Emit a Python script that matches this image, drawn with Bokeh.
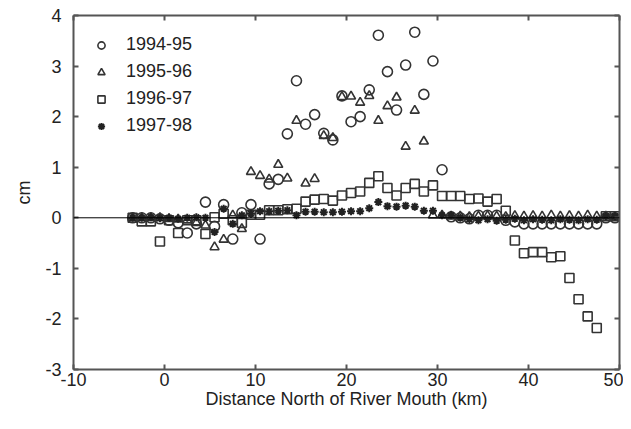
from bokeh.plotting import figure
from bokeh.models import Span, LinearAxis, FixedTicker, Range1d, Legend, LegendItem
from bokeh.embed import file_html
from bokeh.resources import INLINE

# distance north of river mouth (km)
km = [k + 0.5 for k in range(-4, 50)]

c_1994_95 = [0.0, 0.0, 0.0, -0.02, -0.05, -0.10, -0.30, -0.12, 0.31, -0.17,
             0.26, -0.42, 0.10, 0.26, -0.42, 0.67, 0.76, 1.66, 2.71, 1.85,
             2.04, 1.67, 1.54, 2.41, 1.90, 2.00, 2.53, 3.61, 2.89, 2.13,
             3.02, 3.67, 2.44, 3.10, 0.95, 0.02, 0.00, -0.02, 0.05, 0.05,
             0.05, -0.05, -0.08, -0.12, -0.12, -0.12, -0.12, -0.12, -0.12, -0.12,
             -0.12, -0.12, 0.00, 0.00]

c_1995_96 = [0.0, 0.0, 0.0, 0.0, -0.02, -0.03, -0.05, -0.10, -0.15, -0.58,
             -0.43, 0.05, -0.22, 0.91, 0.83, 0.76, 1.05, 0.78, 1.92, 0.68,
             0.77, 1.62, 1.58, 2.39, 2.40, 2.28, 2.41, 1.92, 2.21, 2.38,
             1.41, 2.12, 1.51, 0.05, 0.05, 0.03, 0.03, 0.02, 0.03, 0.04,
             0.03, 0.02, 0.04, 0.03, 0.04, 0.03, 0.05, 0.03, 0.04, 0.03,
             0.05, 0.03, 0.03, 0.02]

c_1996_97 = [0.0, -0.07, -0.07, -0.47, -0.05, -0.30, -0.05, -0.05, -0.32, 0.01,
             0.08, -0.05, -0.10, 0.06, 0.06, 0.15, 0.15, 0.17, 0.18, 0.32,
             0.36, 0.37, 0.34, 0.44, 0.49, 0.52, 0.69, 0.82, 0.59, 0.44,
             0.59, 0.67, 0.52, 0.64, 0.43, 0.43, 0.43, 0.37, 0.38, 0.32,
             0.37, 0.14, -0.45, -0.70, -0.68, -0.68, -0.78, -0.76, -1.19, -1.61,
             -1.95, -2.18, 0.03, 0.03]

c_1997_98 = [0.0, 0.0, 0.01, -0.01, 0.0, -0.02, 0.0, 0.01, 0.0, -0.28,
             0.18, -0.12, 0.05, 0.08, 0.13, 0.13, 0.14, 0.15, 0.05, 0.12,
             0.12, 0.11, 0.11, 0.12, 0.13, 0.13, 0.19, 0.31, 0.23, 0.22,
             0.24, 0.22, 0.14, 0.14, 0.05, 0.05, 0.00, -0.03, -0.05, -0.03,
             -0.06, -0.04, -0.02, -0.05, -0.03, -0.04, -0.05, -0.03, -0.04, -0.05,
             -0.03, -0.04, 0.03, 0.03]

x_ticks = [-10, 0, 10, 20, 30, 40, 50]
y_ticks = [-3, -2, -1, 0, 1, 2, 3, 4]

FONT = "Liberation Sans"
AX = "#555555"
MK = "#333333"

p = figure(width=623, height=415, output_backend="svg",
           toolbar_location=None, x_range=Range1d(-10, 50), y_range=Range1d(-3, 4),
           min_border_left=73, min_border_top=15, min_border_right=4,
           min_border_bottom=46)
p.outline_line_color = None
p.xgrid.visible = False
p.ygrid.visible = False

for ax in (p.xaxis[0], p.yaxis[0]):
    ax.axis_line_color = AX
    ax.axis_line_width = 2
    ax.major_tick_line_color = AX
    ax.major_tick_line_width = 2
    ax.major_tick_in = 5
    ax.major_tick_out = 0
    ax.minor_tick_line_color = None
    ax.major_label_text_font = FONT
    ax.major_label_text_font_size = "18px"
    ax.major_label_text_color = "#222222"
    ax.axis_label_text_font = FONT
    ax.axis_label_text_font_size = "18px"
    ax.axis_label_text_font_style = "normal"
    ax.axis_label_text_color = "#222222"

p.xaxis[0].ticker = FixedTicker(ticks=x_ticks)
p.yaxis[0].ticker = FixedTicker(ticks=y_ticks)
p.xaxis[0].major_label_overrides = {t: str(t) for t in x_ticks}
p.yaxis[0].major_label_overrides = {t: str(t) for t in y_ticks}
p.xaxis[0].axis_label = "Distance North of River Mouth (km)"
p.yaxis[0].axis_label = "cm"
p.xaxis[0].major_label_standoff = 3
p.xaxis[0].axis_label_standoff = 0
p.yaxis[0].major_label_standoff = 12
p.yaxis[0].axis_label_standoff = 8

for loc, tk in (("above", x_ticks), ("right", y_ticks)):
    a = LinearAxis(ticker=FixedTicker(ticks=tk))
    a.axis_line_color = AX
    a.axis_line_width = 2
    a.major_tick_line_color = AX
    a.major_tick_line_width = 2
    a.major_tick_in = 5
    a.major_tick_out = 0
    a.minor_tick_line_color = None
    a.major_label_text_font_size = "0px"
    a.major_label_text_color = None
    a.major_label_standoff = 0
    p.add_layout(a, loc)

p.add_layout(Span(location=0, dimension="width", line_color="black", line_width=1))

r1 = p.scatter(km, c_1994_95, marker="circle", size=10, fill_color=None,
               line_color=MK, line_width=1.6)
r2 = p.scatter(km, c_1995_96, marker="triangle", size=9, fill_color=None,
               line_color=MK, line_width=1.6)
r3 = p.scatter(km, c_1996_97, marker="square", size=9, fill_color=None,
               line_color=MK, line_width=1.6)
r4 = p.scatter(km, c_1997_98, marker="asterisk", size=8, line_color="#222222",
               line_width=2)

legend = Legend(items=[LegendItem(label="1994-95", renderers=[r1]),
                       LegendItem(label="1995-96", renderers=[r2]),
                       LegendItem(label="1996-97", renderers=[r3]),
                       LegendItem(label="1997-98", renderers=[r4])],
                location="top_left")
legend.border_line_color = None
legend.background_fill_alpha = 0
legend.label_text_font = FONT
legend.label_text_font_size = "18px"
legend.label_text_color = "#222222"
legend.glyph_width = 18
legend.glyph_height = 20
legend.label_height = 20
legend.label_standoff = 16
legend.spacing = 6
legend.padding = 18
legend.margin = 19
p.add_layout(legend)

open("out.html", "w").write(file_html(p, INLINE))
